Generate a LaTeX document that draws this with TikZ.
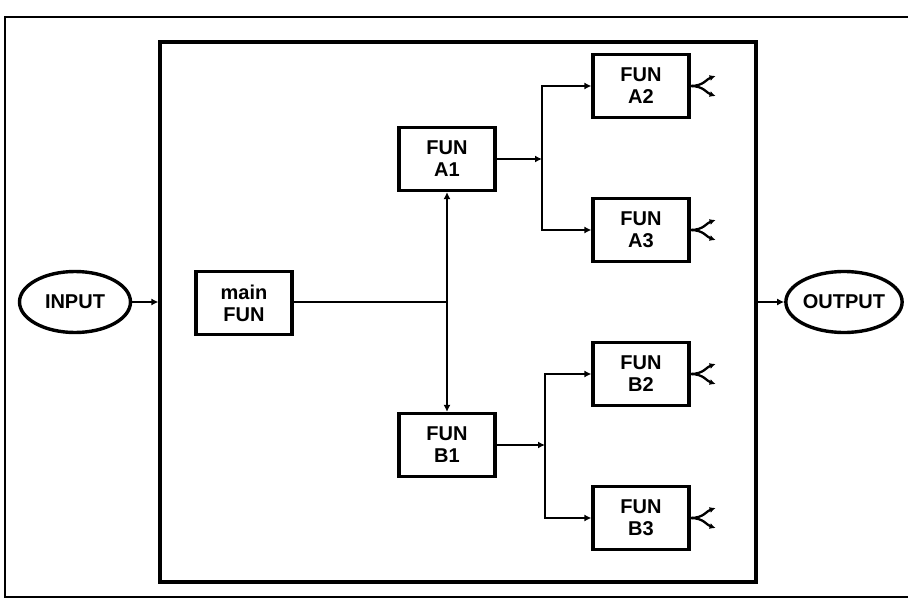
\documentclass[tikz,border=0pt]{standalone}
\usepackage{fontspec}
\setmainfont{Liberation Sans}
\usetikzlibrary{arrows.meta,shapes.geometric}
\begin{document}
\begin{tikzpicture}[x=1pt,y=-1pt,
  txt/.style={font=\fontsize{20}{22}\selectfont\bfseries},
  fbox/.style={draw,line width=3.2pt,minimum width=96pt,minimum height=63pt,inner sep=0pt,align=center,txt},
  oval/.style={draw,ellipse,line width=3.4pt,minimum width=111pt,minimum height=61pt,inner sep=0pt,txt},
  conn/.style={line width=2.3pt,-{Latex[length=7pt,width=7pt]}},
  plainline/.style={line width=2.3pt},
  forkline/.style={line width=2.3pt,-{Latex[length=6pt,width=6pt]}}]
\useasboundingbox (0,0) rectangle (908,599);
% outer frame
\draw[line width=2.8pt] (915,17) -- (5,17) -- (5,597) -- (915,597);
% inner frame
\node[draw,line width=3.2pt,minimum width=596pt,minimum height=540pt,inner sep=0pt] (frame) at (458,312) {};
% nodes
\node[oval] (in) at (75,302) {INPUT};
\node[oval] (out) at (844,302) {OUTPUT};
\node[fbox] (main) at (244,303) {main\\FUN};
\node[fbox] (A1) at (447,159) {FUN\\A1};
\node[fbox] (B1) at (447,445) {FUN\\B1};
\node[fbox] (A2) at (641,86) {FUN\\A2};
\node[fbox] (A3) at (641,230) {FUN\\A3};
\node[fbox] (B2) at (641,374) {FUN\\B2};
\node[fbox] (B3) at (641,518) {FUN\\B3};
\coordinate (J) at (447,302);
\coordinate (TA) at (542,159);
\coordinate (TB) at (545,445);
% connectors
\draw[conn] (in.east) -- (in.east -| frame.west);
\draw[conn] (out.west -| frame.east) -- (out.west);
\draw[plainline] (main.east |- J) -- (J);
\draw[conn] (J) -- (A1.south);
\draw[conn] (J) -- (B1.north);
\draw[conn] (A1.east) -- (TA);
\draw[conn] (B1.east) -- (TB);
\draw[conn] (A3.west -| TA) -- (A2.west -| TA) -- (A2.west);
\draw[conn] (A2.west -| TA) -- (A3.west -| TA) -- (A3.west);
\draw[conn] (B3.west -| TB) -- (B2.west -| TB) -- (B2.west);
\draw[conn] (B2.west -| TB) -- (B3.west -| TB) -- (B3.west);
% forks
\foreach \n in {A2,A3,B2,B3}{
  \draw[forkline] (\n.east) .. controls ([xshift=13pt]\n.east) and ([shift={(16pt,7pt)}]\n.east) .. ([shift={(25pt,10pt)}]\n.east);
  \draw[forkline] (\n.east) .. controls ([xshift=13pt]\n.east) and ([shift={(16pt,-7pt)}]\n.east) .. ([shift={(25pt,-10pt)}]\n.east);
}
\end{tikzpicture}
\end{document}
